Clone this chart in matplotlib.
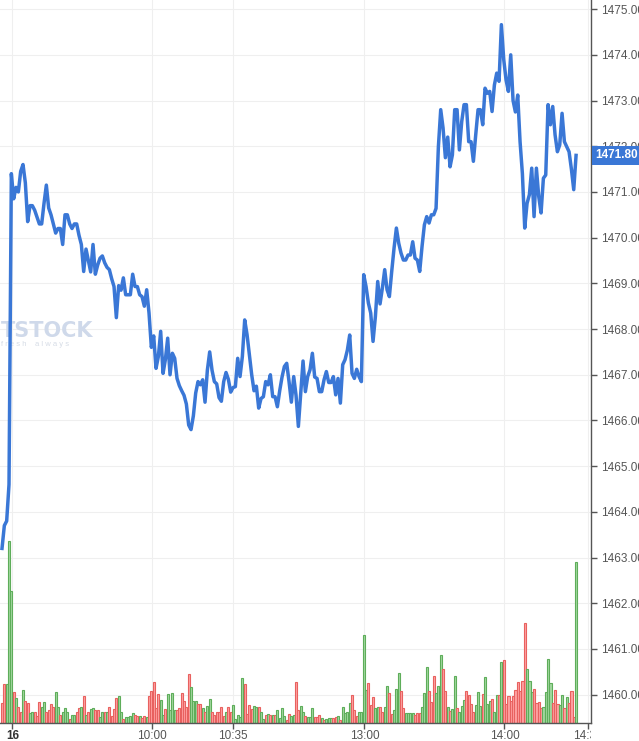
import matplotlib
matplotlib.use("Agg")
import matplotlib.pyplot as plt
import numpy as np
from matplotlib.transforms import Bbox, TransformedBbox, blended_transform_factory

plt.rcParams['font.family'] = ['Liberation Sans', 'DejaVu Sans']

# price per 1-minute bar
prices = [
    1463.2, 1463.7, 1463.8, 1464.6, 1471.4, 1470.85, 1471.1, 1471.0, 1471.45, 1471.6,
    1471.2, 1470.35, 1470.7, 1470.7, 1470.6, 1470.45, 1470.3, 1470.3, 1470.75, 1471.15,
    1470.65, 1470.5, 1470.3, 1470.1, 1470.2, 1470.2, 1469.85, 1470.5, 1470.5, 1470.3,
    1470.2, 1470.3, 1470.3, 1470.05, 1469.85, 1469.26, 1469.75, 1469.5, 1469.25, 1469.85,
    1469.2, 1469.4, 1469.55, 1469.6, 1469.45, 1469.35, 1469.3, 1469.1, 1468.93, 1468.25,
    1468.95, 1468.85, 1469.12, 1468.75, 1468.75, 1468.75, 1469.2, 1468.93, 1468.93, 1468.75,
    1468.71, 1468.5, 1468.86, 1468.35, 1467.6, 1467.85, 1467.14, 1467.4, 1467.95, 1467.03,
    1467.33, 1467.8, 1467.0, 1467.47, 1467.36, 1466.92, 1466.76, 1466.65, 1466.55, 1466.36,
    1465.9, 1465.8, 1466.1, 1466.6, 1466.85, 1466.78, 1466.89, 1466.4, 1467.1, 1467.5,
    1467.1, 1466.85, 1466.8, 1466.5, 1466.42, 1466.85, 1467.05, 1466.9, 1466.62, 1466.72,
    1466.74, 1467.36, 1466.96, 1467.4, 1468.2, 1467.88, 1467.45, 1467.0, 1466.65, 1466.75,
    1466.27, 1466.48, 1466.52, 1466.85, 1466.78, 1467.0, 1466.52, 1466.52, 1466.3, 1466.65,
    1466.95, 1467.18, 1467.25, 1466.85, 1466.4, 1466.96, 1466.55, 1465.87, 1466.6, 1467.3,
    1466.63, 1466.96, 1467.11, 1467.47, 1466.95, 1466.92, 1466.63, 1466.63, 1466.89, 1467.07,
    1466.83, 1466.83, 1466.96, 1466.56, 1466.92, 1466.38, 1467.22, 1467.33, 1467.54, 1467.87,
    1467.03, 1466.92, 1467.12, 1466.96, 1466.85, 1469.19, 1468.93, 1468.57, 1468.35, 1467.73,
    1468.27, 1469.04, 1468.55, 1468.9, 1469.3, 1468.86, 1468.71, 1469.26, 1469.77, 1470.21,
    1469.88, 1469.66, 1469.51, 1469.51, 1469.62, 1469.62, 1469.91, 1469.55, 1469.51, 1469.26,
    1469.81, 1470.28, 1470.46, 1470.32, 1470.5, 1470.5, 1470.64, 1471.99, 1472.8, 1472.4,
    1471.75, 1472.2, 1471.55, 1471.81, 1472.8, 1472.8, 1471.92, 1472.54, 1472.91, 1472.91,
    1472.1, 1472.1, 1471.67, 1472.25, 1472.8, 1472.8, 1472.47, 1473.27, 1473.16, 1473.2,
    1472.76, 1473.34, 1473.6, 1473.42, 1474.66, 1473.9, 1473.45, 1473.2, 1474.0, 1473.0,
    1472.75, 1473.12, 1472.1, 1471.4, 1470.21, 1470.75, 1470.94, 1471.52, 1470.46, 1471.52,
    1470.9, 1470.54, 1471.3, 1471.37, 1472.91, 1472.47, 1472.87, 1472.25, 1471.88, 1472.03,
    1472.72, 1472.1, 1471.99, 1471.88, 1471.5, 1471.05, 1471.8,
]

# volume per bar (arbitrary units)
volumes = [
    20, 39, 39, 182, 132, 31, 25, 16, 11, 33,
    22, 20, 10, 11, 11, 7, 21, 16, 21, 11,
    13, 19, 16, 31, 16, 8, 11, 15, 11, 4,
    8, 8, 11, 15, 16, 27, 8, 11, 14, 15,
    13, 13, 6, 11, 11, 11, 16, 7, 14, 25,
    27, 11, 4, 6, 6, 7, 10, 8, 7, 7,
    5, 7, 6, 27, 32, 41, 15, 29, 23, 8,
    14, 29, 13, 30, 13, 13, 15, 30, 22, 16,
    49, 36, 22, 22, 19, 19, 15, 11, 17, 24,
    11, 8, 11, 11, 16, 7, 11, 16, 11, 18,
    4, 8, 6, 45, 39, 9, 18, 14, 17, 16,
    16, 11, 4, 8, 9, 8, 8, 8, 13, 5,
    15, 7, 3, 9, 7, 8, 41, 13, 17, 11,
    7, 6, 6, 15, 6, 6, 8, 5, 3, 4,
    5, 5, 5, 6, 7, 3, 16, 10, 11, 20,
    28, 13, 7, 11, 11, 88, 33, 40, 18, 26,
    15, 16, 16, 11, 16, 37, 30, 9, 13, 34,
    50, 32, 15, 10, 10, 10, 10, 8, 10, 10,
    16, 30, 56, 32, 21, 47, 30, 37, 68, 54,
    32, 16, 12, 14, 47, 15, 11, 17, 23, 32,
    28, 19, 11, 18, 31, 17, 29, 46, 19, 22,
    24, 11, 28, 28, 61, 63, 19, 27, 22, 27,
    33, 41, 32, 42, 100, 54, 42, 31, 34, 20,
    21, 15, 16, 31, 64, 40, 20, 33, 19, 18,
    28, 15, 26, 20, 32, 6, 161,
]

# bar direction: g = up bar, r = down bar
direction = "".join([
    "rrgggrgrrg", "rrggrrrggr", "rrrggrgggr", "ggrrgrgrgg", "rrggrgrrrr",
    "ggrggggrrg", "rrgrrrrrgg", "rggggrrrrr", "rgggrrgrgg", "rrrrrrgrrg",
    "ggggrrrrgg", "rggrgrgrgg", "ggrrggrrgg", "rgggrrrgrg", "ggrrgrgggg",
    "rrrggggrrr", "ggrrggrrgg", "grrggggrrr", "gggrrrgggr", "rgrggrgggr",
    "rrrgggrggg", "rggrgrrrrr", "rrrrrgggrr", "rrggggrrrg", "grgrrrg",
])

time_ticks = [4.4, 64.4, 99.1, 155.3, 215.3, 251.1]
time_labels = ["16", "10:00", "10:35", "13:00", "14:00", "14:35"]
price_ticks = np.arange(1460, 1476)
last_price = 1471.80

LINE = "#3a77d6"
UP_FILL, UP_EDGE = "#a3d8a0", "#5ead5a"
DN_FILL, DN_EDGE = "#ffa3a3", "#e8615f"
AXC = "#555555"
GRID = "#efefef"

x = np.arange(len(prices))
fills = [UP_FILL if d == "g" else DN_FILL for d in direction]
edges = [UP_EDGE if d == "g" else DN_EDGE for d in direction]

rect = [0, 18 / 741, 591 / 639, 723 / 741]
XLIM = (-0.86, 252.4)
YLIM = (1459.38, 1475.2)

fig = plt.figure(figsize=(6.39, 7.41), dpi=100)

# background axes: grid only
axg = fig.add_axes(rect, zorder=1)
axg.set_xlim(*XLIM)
axg.set_ylim(*YLIM)
axg.set_xticks(time_ticks)
axg.set_yticks(price_ticks)
axg.grid(True, color=GRID, lw=0.8)
axg.tick_params(left=False, bottom=False, labelleft=False, labelbottom=False)
for s in axg.spines.values():
    s.set_visible(False)

# volume axes
axv = fig.add_axes(rect, zorder=2)
axv.patch.set_visible(False)
axv.bar(x, volumes, width=0.95, color=fills, edgecolor=edges, linewidth=0.8)
axv.set_xlim(*XLIM)
axv.set_ylim(0, 723)
axv.set_xticks([])
axv.set_yticks([])
for s in axv.spines.values():
    s.set_visible(False)

# watermark
axv.text(1 / 591, (723 - 331) / 723, "TSTOCK", transform=axv.transAxes, fontsize=15,
         fontweight="bold", color="#cfd9ea", family="DejaVu Sans", va="center", ha="left")
axv.text(1 / 591, (723 - 345) / 723, "f r e s h    a l w a y s", transform=axv.transAxes,
         fontsize=5.5, color="#d6dce6", va="center", ha="left")

# price axes
ax = fig.add_axes(rect, zorder=3)
ax.patch.set_visible(False)
ax.plot(x, prices, color=LINE, lw=2.5)
ax.set_xlim(*XLIM)
ax.set_ylim(*YLIM)

ax.yaxis.tick_right()
ax.set_yticks(price_ticks)
ax.set_yticklabels([f"{v:.2f}" for v in price_ticks])
ax.tick_params(axis="y", direction="out", length=4, width=1, color=AXC,
               labelcolor=AXC, labelsize=8.5, pad=3)
ax.set_xticks(time_ticks)
ax.set_xticklabels(time_labels)
ax.tick_params(axis="x", direction="out", length=4, width=1, color=AXC,
               labelcolor=AXC, labelsize=8.5, pad=1)
ax.get_xticklabels()[0].set_fontweight("bold")
ax.get_xticklabels()[0].set_color("#333333")

for side in ("left", "top"):
    ax.spines[side].set_visible(False)
for side in ("right", "bottom"):
    ax.spines[side].set_color(AXC)
    ax.spines[side].set_linewidth(1)

# clip the last time label at the price axis
clip = TransformedBbox(Bbox([[0, 0], [1, 1]]),
                       blended_transform_factory(ax.transAxes, fig.transFigure))
lbl = ax.get_xticklabels()[-1]
lbl.set_clip_box(clip)
lbl.set_clip_on(True)

# last price marker on the axis
ax.annotate(f"{last_price:.2f}", xy=(1, last_price), xycoords=("axes fraction", "data"),
            xytext=(3, 0), textcoords="offset points", ha="left", va="center",
            color="white", fontweight="bold", fontsize=8.5, annotation_clip=False, zorder=10,
            bbox=dict(boxstyle="square,pad=0.3", fc=LINE, ec="none"))

fig.savefig("out.png", dpi=100, facecolor="white")
